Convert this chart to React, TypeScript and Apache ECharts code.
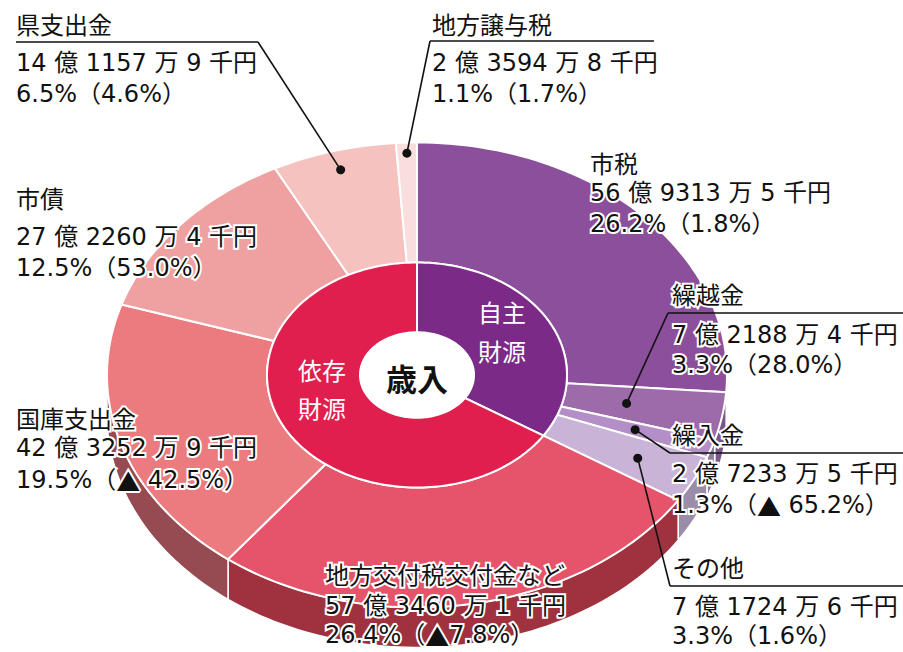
import React, { useEffect, useRef } from "react";
import * as echarts from "echarts";

// ---- data ----
const categories = ["市税", "繰越金", "繰入金", "その他", "地方交付税交付金など", "国庫支出金", "市債", "県支出金", "地方譲与税"];
// amounts in 千円
const amounts = [5693135, 721884, 272335, 717246, 5734601, 4232529, 2722604, 1411579, 235948];
// change from previous year (%)
const changes = [1.8, 28.0, -65.2, 1.6, -7.8, -42.5, 53.0, 4.6, 1.7];
const groups = ["自主財源", "依存財源"];
const groupMembers = [[0, 1, 2, 3], [4, 5, 6, 7, 8]];
const centerTitle = "歳入";

// ---- styles / layout ----
const outerColors = ["#8B4F9B", "#9D6BAA", "#B48EC6", "#C9B4D8", "#E5546A", "#EC7B80", "#EFA1A1", "#F5C2C0", "#F9DEDE"];
const sideColors = ["#6E3D7B", "#7A5788", "#8E78A0", "#9B8CA8", "#A0323F", "#964B52", "#A87070", "#B08A8A", "#B8A0A0"];
const innerColors = ["#7B2A88", "#E01F4F"];
const CX = 417, CY = 375, RO = 310, RM = 150, RI = 57, K = 0.75, DEPTH = 40;
const FONT = "'DejaVu Sans', 'Noto Sans CJK JP', sans-serif";
const CJK = "'Noto Sans CJK JP', sans-serif";
const FS = 24;

type Lay = { x: number; ty: number; vy: number; py: number; ul?: [number, number, number]; from?: [number, number]; dotR?: number };
const labelLayout: Lay[] = [
  { x: 590, ty: 162, vy: 193, py: 224 },
  { x: 672, ty: 293, vy: 335, py: 365, ul: [668, 903, 313], from: [668, 313], dotR: 213 },
  { x: 672, ty: 433, vy: 474, py: 505, ul: [670, 903, 453], from: [670, 453], dotR: 230 },
  { x: 672, ty: 566, vy: 607, py: 636, ul: [670, 903, 586], from: [670, 586], dotR: 247 },
  { x: 325, ty: 573, vy: 606, py: 635 },
  { x: 16, ty: 417, vy: 448, py: 480 },
  { x: 16, ty: 197, vy: 237, py: 268 },
  { x: 16, ty: 23, vy: 63, py: 94, ul: [16, 258, 42], from: [258, 42], dotR: 284 },
  { x: 432, ty: 23, vy: 63, py: 94, ul: [430, 654, 41], from: [430, 41], dotR: 296 },
];
const groupLabelPos = [
  { x: 502, y1: 311, y2: 350 },
  { x: 322, y1: 369, y2: 407 },
];

// ---- helpers ----
const total = amounts.reduce((a, b) => a + b, 0);
const outerAngles: [number, number][] = [];
{
  let acc = 0;
  amounts.forEach((v) => {
    const a0 = (acc / total) * 360;
    acc += v;
    outerAngles.push([a0, (acc / total) * 360]);
  });
}
const innerAngles: [number, number][] = groupMembers.map((m) => [outerAngles[m[0]][0], outerAngles[m[m.length - 1]][1]]);
const innerValues = groupMembers.map((m) => m.reduce((s, i) => s + amounts[i], 0));

const D = Math.PI / 180;
function pt(r: number, a: number, dy = 0): number[] {
  return [CX + r * Math.sin(a * D), CY - r * Math.cos(a * D) * K + dy];
}
function arc(r: number, a0: number, a1: number, dy = 0): number[][] {
  const n = Math.max(2, Math.ceil(Math.abs(a1 - a0) / 1.5));
  const pts: number[][] = [];
  for (let i = 0; i <= n; i++) pts.push(pt(r, a0 + ((a1 - a0) * i) / n, dy));
  return pts;
}
function ring(r0: number, r1: number, a0: number, a1: number): number[][] {
  return [...arc(r1, a0, a1), ...arc(r0, a1, a0)];
}
function fmtAmount(v: number): string {
  const oku = Math.floor(v / 100000);
  const man = Math.floor((v % 100000) / 10);
  const sen = v % 10;
  return `${oku} 億 ${man} 万 ${sen} 千円`;
}
function fmtPct(i: number): string {
  const p = ((amounts[i] / total) * 100).toFixed(1);
  const c = changes[i];
  const cs = c < 0 ? `{tri|▲}${Math.abs(c) >= 10 ? " " : ""}${Math.abs(c).toFixed(1)}` : c.toFixed(1);
  return `${p}%（${cs}%）`;
}

function txt(text: string, x: number, y: number, opts: any = {}) {
  const stroke = opts.stroke === undefined ? "#fff" : opts.stroke;
  const lineWidth = opts.lineWidth === undefined ? 4 : opts.lineWidth;
  const fill = opts.fill || "#111";
  return {
    type: "text",
    x,
    y,
    z: 100,
    silent: true,
    style: {
      text,
      fill,
      stroke,
      lineWidth,
      fontSize: opts.fontSize || FS,
      fontFamily: opts.fontFamily || FONT,
      fontWeight: opts.fontWeight || "normal",
      textAlign: opts.align || "left",
      textVerticalAlign: "middle",
      align: opts.align || "left",
      verticalAlign: "middle",
      rich: {
        tri: { fontFamily: CJK, fontSize: FS, fill, stroke, lineWidth },
      },
    },
  };
}

function buildGraphics() {
  const els: any[] = [];
  categories.forEach((name, i) => {
    const L = labelLayout[i];
    if (L.ul) {
      els.push({ type: "line", z: 90, silent: true, shape: { x1: L.ul[0], y1: L.ul[2], x2: L.ul[1], y2: L.ul[2] }, style: { stroke: "#111", lineWidth: 1.6 } });
    }
    if (L.from && L.dotR) {
      const mid = (outerAngles[i][0] + outerAngles[i][1]) / 2;
      const [dx, dy] = pt(L.dotR, mid);
      els.push({ type: "line", z: 90, silent: true, shape: { x1: L.from[0], y1: L.from[1], x2: dx, y2: dy }, style: { stroke: "#111", lineWidth: 1.6 } });
      els.push({ type: "circle", z: 91, silent: true, shape: { cx: dx, cy: dy, r: 4.5 }, style: { fill: "#111" } });
    }
    els.push(txt(name, L.x, L.ty, { fontFamily: CJK }));
    els.push(txt(fmtAmount(amounts[i]), L.x, L.vy));
    els.push(txt(fmtPct(i), L.x, L.py));
  });
  groups.forEach((g, gi) => {
    const P = groupLabelPos[gi];
    els.push(txt(g.slice(0, 2), P.x, P.y1, { fill: "#fff", stroke: "none", lineWidth: 0, align: "center", fontFamily: CJK }));
    els.push(txt(g.slice(2), P.x, P.y2, { fill: "#fff", stroke: "none", lineWidth: 0, align: "center", fontFamily: CJK }));
  });
  els.push(txt(centerTitle, CX, CY + 2, { fill: "#111", stroke: "none", lineWidth: 0, align: "center", fontFamily: CJK, fontSize: 31, fontWeight: "bold" }));
  return els;
}

const option: any = {
  animation: false,
  backgroundColor: "#fff",
  series: [
    {
      type: "custom",
      name: "side",
      coordinateSystem: "none",
      silent: true,
      z: 1,
      data: amounts.map((v, i) => [i, v]),
      renderItem: (params: any) => {
        const i = params.dataIndex;
        const [a0, a1] = outerAngles[i];
        const s = Math.max(a0, 90);
        const e = Math.min(a1, 270);
        if (e <= s) return { type: "group", children: [] };
        return {
          type: "polygon",
          shape: { points: [...arc(RO, s, e), ...arc(RO, e, s, DEPTH)] },
          style: { fill: sideColors[i], stroke: "#fff", lineWidth: 1.5 },
        };
      },
    },
    {
      type: "custom",
      name: "outer",
      coordinateSystem: "none",
      silent: true,
      z: 2,
      data: amounts.map((v, i) => [i, v]),
      renderItem: (params: any) => {
        const i = params.dataIndex;
        const [a0, a1] = outerAngles[i];
        return {
          type: "polygon",
          shape: { points: ring(RM, RO, a0, a1) },
          style: { fill: outerColors[i], stroke: "#fff", lineWidth: 2 },
        };
      },
    },
    {
      type: "custom",
      name: "inner",
      coordinateSystem: "none",
      silent: true,
      z: 3,
      data: innerValues.map((v, i) => [i, v]),
      renderItem: (params: any) => {
        const i = params.dataIndex;
        const [a0, a1] = innerAngles[i];
        return {
          type: "polygon",
          shape: { points: ring(RI, RM, a0, a1) },
          style: { fill: innerColors[i], stroke: "#fff", lineWidth: 2 },
        };
      },
    },
  ],
  graphic: { elements: buildGraphics() },
};

export default function App() {
  const ref = useRef<HTMLDivElement>(null);
  useEffect(() => {
    const chart = echarts.init(ref.current as HTMLDivElement, null, { renderer: "svg" });
    chart.setOption(option);
    return () => chart.dispose();
  }, []);
  return <div ref={ref} style={{ position: "fixed", left: 0, top: 0, width: 903, height: 652, background: "#fff" }} />;
}
